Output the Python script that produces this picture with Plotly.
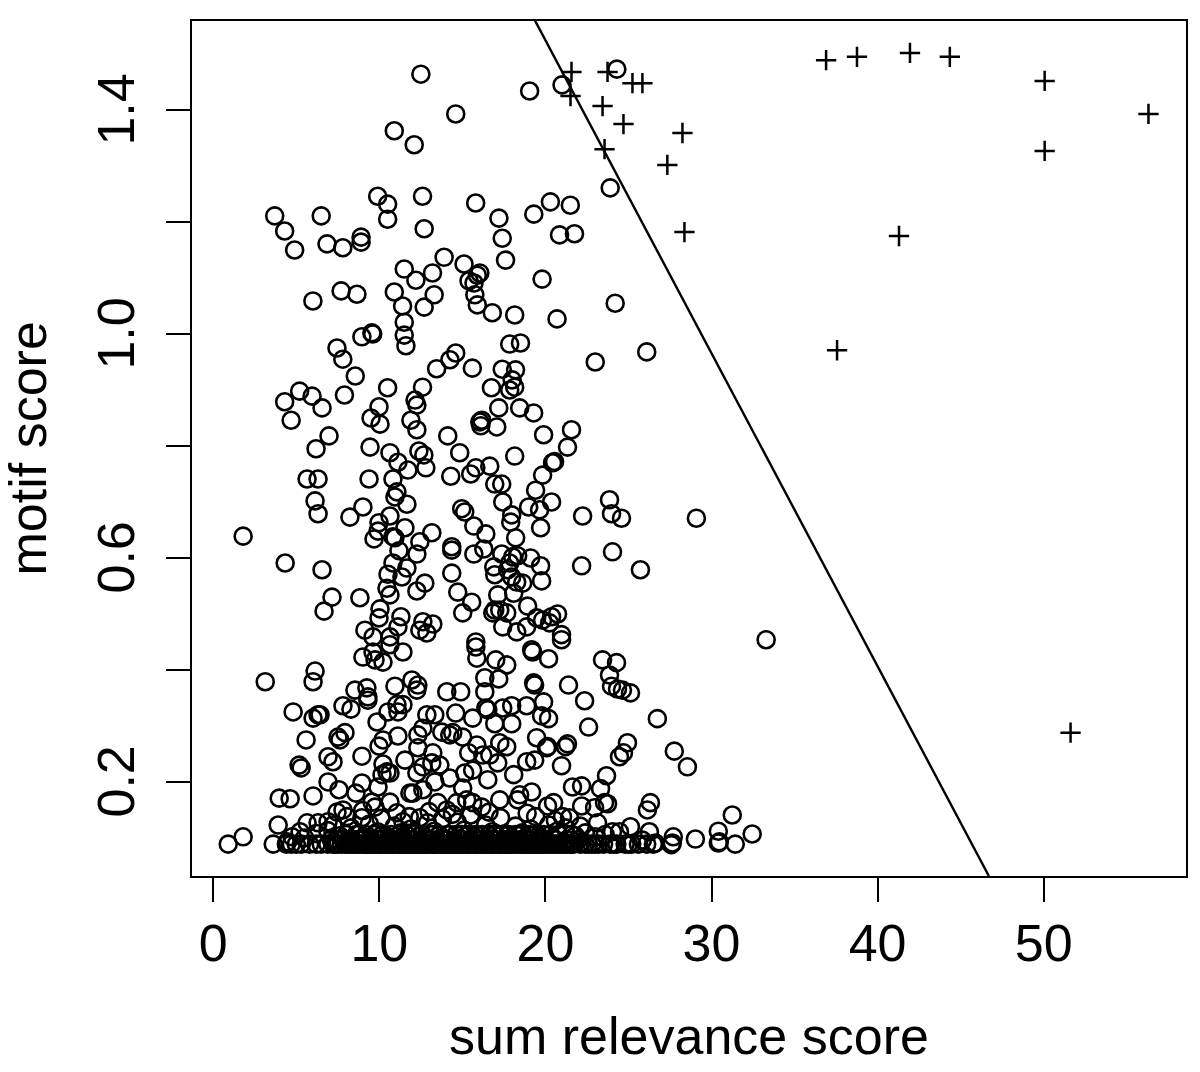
import plotly.graph_objects as go

x_ticks = [0, 10, 20, 30, 40, 50]
y_ticks = [0.2, 0.4, 0.6, 0.8, 1.0, 1.2, 1.4]
# trailing nbsp centres the rotated labels on their ticks
y_tick_text = ["0.2\u00a0", "", "0.6\u00a0", "", "1.0\u00a0", "", "1.4\u00a0"]

# cutoff line
line_x = [19.35, 46.7]
line_y = [1.561, 0.032]

# points above the cutoff
plus_pts = [
    (21.57, 1.468), (21.51, 1.425), (23.74, 1.468), (23.44, 1.407), (24.70, 1.375), (23.56, 1.330),
    (25.24, 1.448), (25.84, 1.448), (28.25, 1.359), (27.34, 1.302), (28.37, 1.182), (36.90, 1.489),
    (38.76, 1.495), (41.95, 1.502), (44.35, 1.495), (50.06, 1.452), (56.31, 1.393), (50.06, 1.327),
    (41.29, 1.175), (37.56, 0.971), (51.62, 0.288),
]

# circles, upper part
high_pts = [
    (12.5, 1.464), (14.6, 1.393), (10.9, 1.363), (12.1, 1.338), (19.05, 1.434), (21.0, 1.445), (24.3, 1.473),
    (23.9, 1.261), (3.7, 1.211), (4.3, 1.184), (4.9, 1.15), (6.5, 1.211), (6.85, 1.161), (7.8, 1.154),
    (8.9, 1.173), (8.9, 1.164), (9.9, 1.246), (10.5, 1.232), (10.5, 1.205), (12.6, 1.246), (12.7, 1.188),
    (15.8, 1.234), (17.2, 1.207), (17.4, 1.171), (19.3, 1.214), (20.3, 1.236), (21.5, 1.230), (20.85, 1.177),
    (21.75, 1.179), (17.6, 1.132), (13.9, 1.137), (15.1, 1.125), (11.5, 1.116), (13.2, 1.109), (12.2, 1.096),
    (15.4, 1.095), (15.7, 1.091), (15.9, 1.105), (16.05, 1.109), (19.8, 1.098), (7.7, 1.077), (8.65, 1.071),
    (6.0, 1.059), (10.9, 1.075), (13.3, 1.07), (12.7, 1.048), (11.4, 1.05), (11.5, 1.021), (11.5, 0.998),
    (11.6, 0.979), (15.75, 1.07), (15.9, 1.052), (16.8, 1.038), (18.15, 1.034), (20.7, 1.027), (24.2, 1.055),
    (26.1, 0.968), (23.0, 0.95), (8.95, 0.995), (9.55, 1.002), (9.6, 1.0), (7.45, 0.975), (7.8, 0.955),
    (8.55, 0.925), (7.9, 0.891), (10.5, 0.904), (5.2, 0.898), (5.95, 0.889), (4.3, 0.879), (12.6, 0.905),
    (13.45, 0.938), (14.25, 0.954), (14.6, 0.966), (15.6, 0.939), (16.75, 0.904), (17.85, 0.982), (18.5, 0.984),
    (17.4, 0.937), (18.2, 0.936), (18.0, 0.918), (17.85, 0.9), (18.15, 0.905), (12.15, 0.882),
]

# circles, middle part
mid_pts = [
    (4.69, 0.846), (6.55, 0.868), (6.97, 0.818), (6.19, 0.795), (5.65, 0.741), (6.31, 0.741), (6.13, 0.702),
    (6.31, 0.679), (9.01, 0.691), (8.23, 0.673), (1.80, 0.639), (4.33, 0.591), (6.55, 0.579), (7.15, 0.530),
    (6.67, 0.505), (8.83, 0.529), (9.44, 0.798), (9.38, 0.741), (9.50, 0.850), (10.04, 0.839), (9.98, 0.870),
    (10.64, 0.788), (11.12, 0.771), (11.72, 0.757), (10.82, 0.741), (11.06, 0.718), (10.94, 0.709), (11.66, 0.696),
    (10.64, 0.675), (9.98, 0.663), (9.92, 0.648), (9.68, 0.634), (10.82, 0.638), (10.94, 0.636), (11.54, 0.654),
    (13.16, 0.645), (12.44, 0.629), (11.18, 0.613), (12.26, 0.607), (10.82, 0.591), (10.52, 0.571), (11.66, 0.582),
    (11.36, 0.566), (12.74, 0.555), (12.26, 0.541), (10.46, 0.546), (10.64, 0.534), (10.04, 0.509), (9.98, 0.493),
    (11.30, 0.495), (9.13, 0.471), (9.62, 0.459), (11.12, 0.477), (10.64, 0.459), (12.62, 0.486), (13.22, 0.482),
    (12.44, 0.471), (12.86, 0.466), (12.26, 0.873), (11.90, 0.846), (12.26, 0.829), (12.38, 0.791), (12.68, 0.784),
    (12.80, 0.761), (14.12, 0.818), (14.84, 0.788), (14.30, 0.746), (15.50, 0.750), (15.81, 0.761), (16.65, 0.764),
    (16.95, 0.732), (17.37, 0.732), (17.43, 0.700), (14.96, 0.688), (15.14, 0.682), (15.69, 0.657), (16.41, 0.643),
    (17.97, 0.677), (17.91, 0.664), (18.21, 0.636), (14.36, 0.620), (14.36, 0.614), (15.69, 0.607), (16.29, 0.616),
    (14.36, 0.573), (17.37, 0.607), (16.89, 0.584), (16.95, 0.570), (18.03, 0.602), (18.33, 0.604), (17.85, 0.591),
    (17.73, 0.579), (17.97, 0.566), (18.27, 0.557), (18.63, 0.555), (19.11, 0.600), (19.71, 0.586), (19.77, 0.559),
    (17.13, 0.534), (18.09, 0.537), (14.72, 0.539), (15.56, 0.521), (15.02, 0.502), (18.93, 0.514), (16.95, 0.507),
    (16.83, 0.502), (17.25, 0.507), (17.67, 0.502), (20.73, 0.500), (20.37, 0.495), (19.83, 0.489), (19.47, 0.493),
    (18.87, 0.477), (20.25, 0.484), (17.43, 0.477), (18.27, 0.468), (20.97, 0.463), (15.81, 0.450), (19.29, 0.859),
    (18.45, 0.868), (17.19, 0.868), (16.05, 0.843), (16.17, 0.846), (16.11, 0.836), (17.07, 0.834), (19.89, 0.820),
    (21.57, 0.829), (21.33, 0.798), (18.15, 0.782), (20.49, 0.771), (20.55, 0.772), (20.43, 0.770), (19.83, 0.748),
    (19.41, 0.721), (20.37, 0.700), (18.99, 0.691), (19.65, 0.686), (19.71, 0.654), (22.24, 0.675), (23.86, 0.704),
    (23.98, 0.679), (24.58, 0.671), (29.09, 0.671), (24.04, 0.611), (22.18, 0.586), (25.72, 0.579),
]

# circles, lower part
low_pts = [
    (33.29, 0.454), (3.13, 0.379), (6.13, 0.398), (6.01, 0.379), (4.81, 0.325), (6.01, 0.314), (6.31, 0.320),
    (6.43, 0.320), (5.59, 0.275), (5.17, 0.230), (5.29, 0.225), (3.97, 0.171), (4.63, 0.170), (3.91, 0.123),
    (6.01, 0.175), (1.80, 0.102), (0.90, 0.089), (3.61, 0.089), (6.91, 0.200), (7.57, 0.186), (6.91, 0.245),
    (7.21, 0.236), (7.51, 0.280), (7.93, 0.288), (7.63, 0.275), (8.95, 0.246), (8.95, 0.198), (8.59, 0.180),
    (7.81, 0.336), (8.29, 0.330), (8.53, 0.364), (9.25, 0.368), (9.31, 0.352), (9.31, 0.346), (9.86, 0.307),
    (10.52, 0.325), (11.06, 0.338), (11.42, 0.338), (11.12, 0.325), (10.94, 0.371), (11.96, 0.382), (12.32, 0.373),
    (12.26, 0.364), (14.06, 0.361), (14.90, 0.361), (15.81, 0.441), (15.87, 0.421), (16.35, 0.386), (16.35, 0.361),
    (16.41, 0.332), (9.01, 0.423), (9.62, 0.432), (9.74, 0.418), (10.22, 0.414), (10.64, 0.445), (11.42, 0.432),
    (11.12, 0.282), (10.22, 0.275), (9.98, 0.264), (12.86, 0.320), (13.34, 0.320), (14.60, 0.323), (15.62, 0.314),
    (12.32, 0.261), (12.32, 0.284), (12.62, 0.296), (13.76, 0.289), (14.24, 0.284), (14.42, 0.288), (15.02, 0.280),
    (15.87, 0.266), (15.38, 0.252), (11.54, 0.239), (10.22, 0.232), (10.46, 0.218), (10.64, 0.216), (10.16, 0.213),
    (13.22, 0.252), (13.64, 0.230), (13.16, 0.234), (12.62, 0.227), (12.26, 0.216), (13.34, 0.200), (12.62, 0.186),
    (12.02, 0.180), (11.84, 0.180), (15.14, 0.216), (15.62, 0.221), (15.02, 0.189), (14.24, 0.207), (16.23, 0.248),
    (9.92, 0.191), (10.64, 0.164), (9.56, 0.164), (9.74, 0.155), (5.65, 0.127), (6.31, 0.127), (6.91, 0.129),
    (7.21, 0.123), (5.23, 0.111), (4.75, 0.102), (4.45, 0.093), (7.81, 0.150), (7.45, 0.146), (8.05, 0.138),
    (8.95, 0.136), (11.06, 0.145), (11.42, 0.129), (12.44, 0.136), (13.52, 0.163), (14.06, 0.150), (14.66, 0.163),
    (15.26, 0.168), (16.17, 0.155), (15.62, 0.163), (17.01, 0.418), (17.67, 0.409), (20.19, 0.420), (19.23, 0.432),
    (19.17, 0.436), (20.97, 0.454), (23.44, 0.418), (24.28, 0.413), (23.86, 0.391), (23.98, 0.371), (24.34, 0.366),
    (25.12, 0.359), (24.64, 0.364), (21.39, 0.373), (22.36, 0.345), (22.60, 0.298), (26.74, 0.313), (27.76, 0.255),
    (28.55, 0.227), (19.29, 0.377), (19.35, 0.373), (19.89, 0.343), (18.87, 0.336), (17.97, 0.336), (17.43, 0.332),
    (16.53, 0.329), (16.95, 0.304), (17.97, 0.304), (19.77, 0.318), (20.19, 0.313), (17.19, 0.384), (19.47, 0.279),
    (20.13, 0.263), (20.07, 0.261), (21.33, 0.268), (21.21, 0.263), (20.97, 0.229), (17.25, 0.270), (17.67, 0.263),
    (16.65, 0.248), (17.13, 0.234), (18.09, 0.213), (16.53, 0.204), (19.35, 0.239), (18.87, 0.236), (19.17, 0.182),
    (18.45, 0.177), (17.25, 0.168), (18.33, 0.168), (24.94, 0.270), (24.70, 0.252), (24.46, 0.245), (23.68, 0.211),
    (23.32, 0.188), (21.63, 0.191), (22.18, 0.193), (23.74, 0.161), (23.56, 0.163), (22.96, 0.154), (22.18, 0.157),
    (26.32, 0.163), (26.14, 0.150), (20.49, 0.163), (20.13, 0.157), (19.41, 0.138), (21.03, 0.138), (21.45, 0.136),
    (23.14, 0.127), (25.12, 0.120), (24.46, 0.111), (24.04, 0.111), (26.26, 0.111), (26.62, 0.091), (25.84, 0.096),
    (27.70, 0.102), (27.64, 0.091), (27.58, 0.088), (29.03, 0.098), (30.41, 0.112), (30.47, 0.093), (30.41, 0.091),
    (31.25, 0.141), (32.45, 0.107), (31.43, 0.089),
]

# just above the floor of the score
near_floor_pts = [
    (6.2, 0.108), (6.9, 0.113), (7.6, 0.104), (8.3, 0.118), (8.8, 0.107), (9.4, 0.125), (9.9, 0.111), (10.4, 0.104),
    (10.9, 0.121), (11.3, 0.109), (11.9, 0.116), (12.4, 0.104), (12.9, 0.127), (13.3, 0.112), (13.8, 0.134), (14.2, 0.106),
    (14.7, 0.128), (15.1, 0.114), (15.5, 0.141), (15.9, 0.105), (16.4, 0.123), (16.8, 0.111), (17.3, 0.136), (17.7, 0.104),
    (18.2, 0.121), (18.6, 0.109), (19.1, 0.116), (19.6, 0.104), (20.2, 0.123), (20.7, 0.112), (21.2, 0.118), (21.8, 0.104),
    (22.4, 0.109), (23.0, 0.102), (23.6, 0.106), (5.5, 0.100), (13.0, 0.147), (14.4, 0.142), (16.6, 0.146), (18.9, 0.144),
    (10.1, 0.135), (11.8, 0.138), (9.0, 0.149), (20.6, 0.131), (22.1, 0.121),
]

# the floor itself, three close rows that merge into the black band
floor_x = [
    4.4, 4.7, 5.0, 5.3, 5.8, 6.2, 6.5, 6.9, 7.2, 7.5, 7.9, 8.2, 8.5, 8.8, 9.1, 9.3, 9.6, 9.9, 10.1, 10.4,
    10.7, 10.9, 11.2, 11.4, 11.7, 11.9, 12.2, 12.4, 12.7, 12.9, 13.2, 13.4, 13.7, 13.9, 14.2, 14.4, 14.7, 14.9, 15.2, 15.4,
    15.7, 15.9, 16.2, 16.4, 16.7, 16.9, 17.2, 17.4, 17.7, 17.9, 18.2, 18.5, 18.8, 19.0, 19.3, 19.6, 19.9, 20.2, 20.5, 20.8,
    21.1, 21.4, 21.7, 22.1, 22.4, 22.8, 23.2, 23.5, 23.9, 24.3, 24.8, 25.2, 25.6, 26.1, 26.5,
    7.35, 7.7, 8.05, 8.35, 8.65, 8.95, 9.2, 9.45, 9.75, 10.0, 10.25, 10.55, 10.8, 11.05, 11.3, 11.55, 11.8, 12.05, 12.3, 12.55,
    12.8, 13.05, 13.3, 13.55, 13.8, 14.05, 14.3, 14.55, 14.8, 15.05, 15.3, 15.55, 15.8, 16.05, 16.3, 16.55, 16.8, 17.05, 17.3, 17.55,
    17.8, 18.05, 18.35, 18.65, 18.9, 19.15, 19.45, 19.75, 20.05, 20.35, 20.65, 20.95, 21.25, 21.55, 22.6, 23.0, 24.1, 25.0,
]
floor_y = [0.089] * len(floor_x)

floor2_x = [
    7.1, 7.8, 8.4, 9.0, 9.5, 10.0, 10.5, 11.0, 11.5, 12.0, 12.5, 13.0, 13.5, 14.0, 14.5, 15.0, 15.5, 16.0, 16.5, 17.0,
    17.5, 18.0, 18.5, 19.0, 19.5, 20.0, 20.6, 21.3, 22.0, 7.4, 8.7, 9.8, 10.8, 11.8, 12.8, 13.8, 14.8, 15.8, 16.8, 17.8, 18.8, 19.8,
]
floor2_y = [0.097] * len(floor2_x)

floor3_x = [
    8.0, 9.2, 10.2, 11.2, 12.1, 13.1, 14.1, 15.0, 15.8, 16.6, 17.4, 18.2, 19.0, 19.9, 20.8, 8.6, 9.7, 10.7, 11.6, 12.6,
    13.6, 14.6, 15.4, 16.2, 17.0, 17.8, 18.6, 19.4, 20.3, 21.6, 13.2, 14.9, 16.9, 18.4,
]
floor3_y = [0.106] * len(floor3_x)

circle_pts = high_pts + mid_pts + low_pts + near_floor_pts
circle_x = [p[0] for p in circle_pts] + floor_x + floor2_x + floor3_x
circle_y = [p[1] for p in circle_pts] + floor_y + floor2_y + floor3_y

fig = go.Figure()

fig.add_trace(go.Scatter(
    x=circle_x, y=circle_y, mode='markers', showlegend=False,
    marker=dict(symbol='circle-open', size=17, color='black', line=dict(width=2.6, color='black'))
))

fig.add_trace(go.Scatter(
    x=[p[0] for p in plus_pts], y=[p[1] for p in plus_pts], mode='markers', showlegend=False,
    marker=dict(symbol='cross-thin-open', size=14.5, color='black', line=dict(width=2.5, color='black'))
))

fig.add_trace(go.Scatter(
    x=line_x, y=line_y, mode='lines', showlegend=False,
    line=dict(color='black', width=2.4)
))

axis_font = dict(family='Liberation Sans', size=52, color='black')

fig.update_layout(
    width=1200,
    height=1072,
    margin=dict(l=192, r=12, t=21, b=196),
    plot_bgcolor='white',
    paper_bgcolor='white',
    showlegend=False,
    xaxis=dict(
        range=[-1.28, 58.57], tickvals=x_ticks, ticks='outside', ticklen=24, tickwidth=2, tickcolor='black',
        showgrid=False, zeroline=False, showline=True, mirror=True, linecolor='black', linewidth=2,
        tickfont=axis_font, ticklabelstandoff=-3,
        title=dict(text='sum relevance score', font=axis_font, standoff=46)
    ),
    yaxis=dict(
        range=[0.032, 1.559], tickvals=y_ticks, ticktext=y_tick_text, tickangle=-90, ticks='outside', ticklen=24,
        tickwidth=2, tickcolor='black', showgrid=False, zeroline=False, showline=True, mirror=True,
        linecolor='black', linewidth=2, tickfont=axis_font, ticklabelstandoff=11
    ),
    # y title as an annotation: the axis title gets pushed around by the margin
    annotations=[dict(
        text='motif score', font=axis_font, textangle=-90, showarrow=False,
        xref='paper', yref='paper', x=-0.165, y=0.5, xanchor='center', yanchor='middle'
    )],
)

fig.write_html("out.html", config=dict(displayModeBar=False), post_script="document.body.style.margin='0';")
